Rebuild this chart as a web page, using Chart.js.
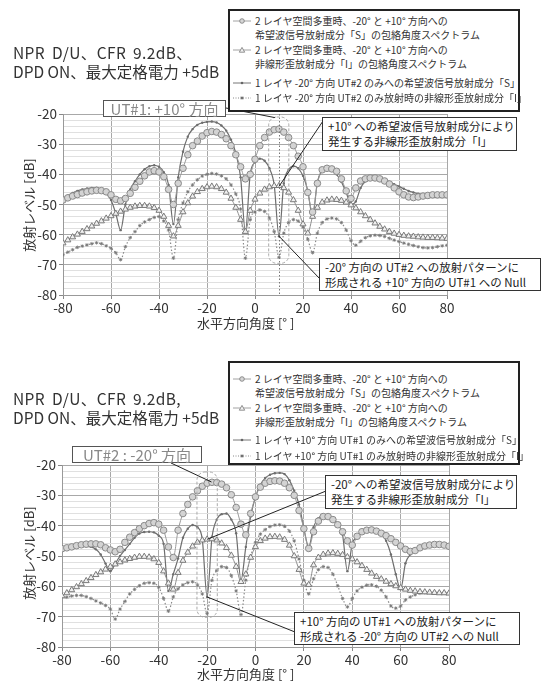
<!DOCTYPE html>
<html><head><meta charset="utf-8">
<script src="https://cdn.jsdelivr.net/npm/chart.js"></script>
<style>
body{margin:0;width:544px;height:684px;position:relative;background:#fff;font-family:'Noto Sans CJK JP','Noto Sans',sans-serif;overflow:hidden}
.abs{position:absolute;white-space:nowrap}
canvas{position:absolute;left:0}
.title{font-size:15.5px;color:#333;line-height:19px}
.legend{position:absolute;border:2px solid #222;box-sizing:border-box;background:#fff}
.lrow{position:absolute;font-size:10px;color:#333;line-height:12px;white-space:nowrap;transform:translateY(-6px)}
.lrow svg{vertical-align:middle;margin-right:4px;position:relative;top:-1px}
.abox{position:absolute;border:1.5px solid #333;background:#fff;box-sizing:border-box;font-size:11.5px;color:#222;line-height:15px;padding:1px 5px;white-space:nowrap}
.ubox{position:absolute;border:1.5px solid #555;background:#fff;box-sizing:border-box;font-size:15px;color:#888;line-height:15px;text-align:center;white-space:nowrap}
.axt{position:absolute;font-size:13px;color:#333;white-space:nowrap}
</style></head><body>

<canvas id="c1" width="544" height="342" style="top:0"></canvas>
<canvas id="c2" width="544" height="342" style="top:342px"></canvas>

<div class="abs title" style="left:13px;top:43px;word-spacing:3px;letter-spacing:0.4px">NPR D/U、CFR 9.2dB、</div>
<div class="abs title" style="left:13px;top:62px">DPD ON、最大定格電力 +5dB</div>
<div class="abs title" style="left:13px;top:389px;word-spacing:3px;letter-spacing:0.4px">NPR D/U、CFR 9.2dB,</div>
<div class="abs title" style="left:13px;top:408px">DPD ON、最大定格電力 +5dB</div>

<div class="legend" id="leg1" style="left:228px;top:9px;width:292px;height:103px"></div>
<div class="legend" id="leg2" style="left:228px;top:361px;width:292px;height:104px"></div>

<div class="ubox" style="left:103px;top:100px;width:123px;height:17px">UT#1: +10° 方向</div>
<div class="abox" style="left:322px;top:117px;width:195px;height:34px">+10° への希望波信号放射成分により<br>発生する非線形歪放射成分「I」</div>
<div class="abox" style="left:319px;top:258px;width:222px;height:33px">-20° 方向の UT#2 への放射パターンに<br>形成される +10° 方向の UT#1 への Null</div>

<div class="ubox" style="left:72px;top:446px;width:130px;height:17px">UT#2 : -20° 方向</div>
<div class="abox" style="left:325px;top:475px;width:192px;height:34px">-20° への希望波信号放射成分により<br>発生する非線形歪放射成分「I」</div>
<div class="abox" style="left:294px;top:612px;width:226px;height:33px">+10° 方向の UT#1 への放射パターンに<br>形成される -20° 方向の UT#2 への Null</div>

<div class="axt" style="left:197px;top:313px">水平方向角度 [°&nbsp;]</div>
<div class="axt" style="left:197px;top:664px">水平方向角度 [°&nbsp;]</div>
<div class="axt" style="left:28px;top:205px;transform:translate(-50%,-50%) rotate(-90deg)">放射レベル [dB]</div>
<div class="axt" style="left:28px;top:553px;transform:translate(-50%,-50%) rotate(-90deg)">放射レベル [dB]</div>

<script>
// ---------- data ----------
const angles = [-80,-78,-76,-74,-72,-70,-68,-66,-64,-62,
 -60,-58,-56,-54,-52,-50,-48,-46,-44,-42,
 -40,-38,-36,-34,-32,-30,-28,-26,-24,-22,
 -20,-18,-16,-14,-12,-10,-8,-6,-4,-2,
 0,2,4,6,8,10,12,14,16,18,
 20,22,24,26,28,30,32,34,36,38,
 40,42,44,46,48,50,52,54,56,58,
 60,62,64,66,68,70,72,74,76,78,
 80];
const xTicks = [-80,-60,-40,-20,0,20,40,60,80];
const yTicks = [-80,-70,-60,-50,-40,-30,-20];

// top chart (UT#1 +10°)
const topS2 = [-48.5,-47.8,-47.2,-46.7,-46.2,-45.8,-45.5,-45.3,-45.4,-45.8,
 -46.8,-48.3,-48.8,-48,-46.3,-44.3,-42.3,-40.5,-39.2,-38.8,
 -39.2,-40.8,-45,-50,-43,-38,-33.5,-30.5,-29,-27.3,
 -26.2,-25.8,-26,-26.8,-28.2,-30.5,-33.5,-37.5,-41.5,-40,
 -35,-30.5,-27.8,-26,-25.2,-25,-26,-27.8,-30.5,-34,
 -37.5,-46,-52.5,-43,-38.5,-38,-38.2,-39,-41.5,-45.5,
 -48,-44.5,-42.2,-41.5,-41.2,-41.2,-41.5,-42.2,-43.2,-44.5,
 -45.8,-46.8,-47.5,-47.7,-47.5,-47.2,-47,-46.8,-46.8,-46.8,
 -46.8];
const topI2 = [-62.8,-61.8,-60.8,-59.9,-59,-58.1,-57.2,-56.3,-55.5,-54.6,
 -53.8,-53,-52.3,-51.6,-51,-50.6,-50.4,-50.4,-50.6,-51.1,
 -52,-54,-57,-60.5,-57,-52.5,-49.5,-47.3,-45.8,-44.8,
 -44.2,-44,-44.2,-44.8,-46,-48,-51,-55,-59,-52,
 -48.3,-46.3,-45,-44.2,-43.8,-43.8,-44.5,-46,-48.5,-52,
 -56.5,-59.5,-54,-51,-49.3,-48.6,-48.3,-48.4,-48.7,-49.3,
 -50.2,-51.2,-52.5,-53.8,-55,-56.2,-57.3,-58.2,-59,-59.6,
 -60,-60.3,-60.5,-60.6,-60.8,-60.9,-61,-61,-61.1,-61.2,
 -61.3];
const topS1 = [-47.9,-47,-46.2,-45.5,-45,-44.7,-44.5,-44.5,-45,-46.2,
 -48.5,-53,-58.5,-50,-45,-42.3,-40,-38.3,-37.3,-37,
 -37.5,-39.3,-43.5,-56.5,-41,-32.5,-27.5,-25,-23.6,-22.9,
 -22.6,-22.5,-22.8,-23.8,-25.5,-28.5,-33,-41,-59,-40,
 -36,-34.8,-35.5,-38,-43.5,-60.5,-43,-38.5,-37.3,-38,
 -40.5,-45.5,-54,-42.5,-38.8,-38,-38.5,-40,-42.5,-46,
 -50,-49,-44.5,-42.3,-41.3,-41,-41.2,-41.8,-42.5,-43.3,
 -44,-44.8,-45.5,-46,-46.4,-46.7,-46.8,-46.9,-47,-47,
 -47];
const topI1 = [-66.7,-65.8,-65,-64.2,-63.8,-63.4,-63,-62.7,-63,-63.7,
 -64.5,-66,-68.3,-64,-61,-59,-57,-55.8,-55,-54.3,
 -54,-55.5,-58.5,-67.8,-55,-49.5,-45.8,-43.5,-41.8,-40.6,
 -40,-39.7,-39.9,-40.5,-41.5,-43.5,-46.5,-51.5,-67.8,-55,
 -52.5,-51.8,-52.3,-54.5,-59,-67.5,-59.5,-56,-55,-55.5,
 -57.5,-61.5,-66,-59.5,-56,-54.8,-54.5,-54.8,-56,-58.5,
 -62,-63.5,-62.2,-61,-60.4,-60.2,-60.3,-60.6,-61.2,-61.8,
 -62.3,-62.8,-63.2,-63.6,-64,-64.3,-64.4,-64.3,-64,-63.7,
 -63.5];

// bottom chart (UT#2 -20°)
const botS2 = [-47.6,-47.3,-47,-46.6,-46.3,-46.1,-46,-46,-46.3,-47.3,
 -48,-48.6,-47.8,-45.5,-43.8,-42.3,-41,-40,-39.3,-39,
 -39.5,-41.5,-47,-50.5,-41.5,-36,-33,-30.5,-28.5,-27,
 -26,-25.7,-25.8,-26.3,-27.5,-29.8,-34,-39.5,-43,-36,
 -30.5,-27.3,-26,-25.4,-25.2,-25.3,-26,-27.5,-30,-35,
 -41,-47.5,-42,-38.5,-37,-37,-38,-39.7,-42,-45,
 -46.4,-43.5,-42,-41.5,-41.4,-41.8,-42.5,-43.3,-44.3,-45.5,
 -46.7,-47.8,-48.5,-48.2,-47.3,-46.7,-46.4,-46.2,-46.2,-46.4,
 -46.8];
const botI2 = [-63.2,-62.2,-61.2,-60.2,-59.2,-58.2,-57.2,-56.2,-55.3,-54.4,
 -53.5,-52.7,-52,-51.4,-50.9,-50.5,-50.2,-50.2,-50.4,-51,
 -52.2,-55,-59,-61,-55.5,-51.5,-48.8,-46.8,-45.5,-44.8,
 -44.5,-44.4,-44.8,-45.8,-47.3,-49.8,-53.5,-58.5,-56,-50.5,
 -47,-45,-44.2,-43.7,-43.6,-43.8,-44.6,-46.5,-50,-54.5,
 -59,-59.5,-53,-50.5,-49.5,-49.1,-49,-49.2,-49.6,-50.3,
 -51,-52,-53.2,-54.5,-55.7,-56.8,-57.6,-58.4,-59.2,-59.9,
 -60.5,-61,-61.4,-61.6,-61.8,-61.9,-62,-62.1,-62.2,-62.2,
 -62.3];
const botS1 = [-48,-47.6,-47.2,-47,-46.8,-46.8,-47,-47.8,-49.5,-52.5,
 -55,-52.5,-50,-48,-46,-44,-42.6,-42.1,-42,-42.2,
 -43.3,-46,-61.5,-56,-50.8,-44,-41,-39.8,-40.5,-44.5,
 -63.5,-44,-38,-36.2,-36,-38,-42.5,-58,-47,-37,
 -30.5,-26.5,-24.3,-23.2,-22.7,-22.6,-23,-25,-28.5,-33,
 -41,-47,-40.5,-37.5,-36.6,-36.6,-37.5,-39.5,-43,-55,
 -46,-43.5,-41.8,-41,-41,-41.6,-42.5,-45,-49.5,-56,
 -61,-52.4,-49.5,-48,-47.2,-46.8,-46.5,-46.5,-46.6,-46.8,
 -47];
const botI1 = [-63.4,-63.6,-63.2,-63,-63,-63.4,-64,-64.8,-65.5,-66.3,
 -67.5,-70.8,-67.5,-65,-62.5,-61,-59.8,-59,-58.8,-59,
 -60.3,-64,-68.2,-63.5,-60.8,-59.5,-58.8,-58.5,-59.5,-62.5,
 -69,-58,-54.8,-53.5,-53.8,-56.5,-61.5,-69.3,-58,-50,
 -45.5,-42.8,-41.3,-40.3,-39.8,-39.7,-40.2,-41.8,-45,-51,
 -58,-62.5,-57.5,-54.5,-53.5,-53.8,-56,-59.8,-64,-66.8,
 -64,-61.5,-60.3,-59.6,-59.5,-60,-61.3,-63.5,-66.5,-67.2,
 -66.5,-64.5,-63.5,-62.8,-62.3,-62.1,-62,-62,-62.1,-62.2,
 -62.3];

// ---------- legend text ----------
const legendTop = [
 ['circle','2 レイヤ空間多重時、-20° と +10° 方向への'],
 [null,'希望波信号放射成分「S」の包絡角度スペクトラム'],
 ['triangle','2 レイヤ空間多重時、-20° と +10° 方向への'],
 [null,'非線形歪放射成分「I」の包絡角度スペクトラム'],
 ['solid','1 レイヤ -20° 方向 UT#2 のみへの希望波信号放射成分「S」'],
 ['dotted','1 レイヤ -20° 方向 UT#2 のみ放射時の非線形歪放射成分「I」']];
const legendBot = [
 ['circle','2 レイヤ空間多重時、-20° と +10° 方向への'],
 [null,'希望波信号放射成分「S」の包絡角度スペクトラム'],
 ['triangle','2 レイヤ空間多重時、-20° と +10° 方向への'],
 [null,'非線形歪放射成分「I」の包絡角度スペクトラム'],
 ['solid','1 レイヤ +10° 方向 UT#1 のみへの希望波信号放射成分「S」'],
 ['dotted','1 レイヤ +10° 方向 UT#1 のみ放射時の非線形歪放射成分「I」']];

function markerSvg(kind){
  let s='<svg width="18" height="8" viewBox="0 0 18 8">';
  if(kind==='circle') s+='<line x1="0" y1="4" x2="18" y2="4" stroke="#8a8a8a" stroke-width="0.8"/><circle cx="9" cy="4" r="2.3" fill="#d6d6d6" stroke="#777" stroke-width="0.8"/>';
  if(kind==='triangle') s+='<line x1="0" y1="4" x2="18" y2="4" stroke="#8a8a8a" stroke-width="0.8"/><polygon points="9,1.4 11.7,6.2 6.3,6.2" fill="#f2f2f2" stroke="#777" stroke-width="0.8"/>';
  if(kind==='solid') s+='<line x1="0" y1="4" x2="18" y2="4" stroke="#666" stroke-width="0.9"/><circle cx="9" cy="4" r="1.3" fill="#666"/>';
  if(kind==='dotted') s+='<line x1="0" y1="4" x2="18" y2="4" stroke="#888" stroke-dasharray="1,1.5"/><path d="M7.3,4H10.7M9,2.3V5.7M7.8,2.8L10.2,5.2M10.2,2.8L7.8,5.2" stroke="#666" stroke-width="0.8"/>';
  return s+'</svg>';
}
function buildLegend(id, rows, offs){
  const el=document.getElementById(id);
  rows.forEach((r,i)=>{
    const d=document.createElement('div');
    d.className='lrow';
    d.style.top=(offs[i]-2)+'px';
    if(r[0]){ d.style.left='3px'; d.innerHTML=markerSvg(r[0])+r[1]; }
    else { d.style.left='25px'; d.textContent=r[1]; }
    el.appendChild(d);
  });
}
buildLegend('leg1', legendTop, [12,26,41,55,74,89]);
buildLegend('leg2', legendBot, [18,32,47,61,79,95]);

// ---------- chart ----------
const FONT = "'Noto Sans CJK JP','Noto Sans',sans-serif";
const annotPlugin = {
  id:'annot',
  afterDatasetsDraw(chart, args, o){
    const {ctx, scales:{x,y}} = chart;
    ctx.save();
    if(o.vline!==undefined){
      ctx.strokeStyle='#777'; ctx.lineWidth=1; ctx.setLineDash([1.5,2]);
      const px=Math.round(x.getPixelForValue(o.vline))+0.5;
      ctx.beginPath(); ctx.moveTo(px,chart.chartArea.top); ctx.lineTo(px,chart.chartArea.bottom); ctx.stroke();
    }
    if(o.rect){
      const r=o.rect;
      const x0=x.getPixelForValue(r.x0), x1=x.getPixelForValue(r.x1);
      const y0=y.getPixelForValue(r.y0), y1=y.getPixelForValue(r.y1);
      ctx.strokeStyle='#aaa'; ctx.lineWidth=1; ctx.setLineDash([3,2]);
      ctx.beginPath(); ctx.roundRect(x0,y0,x1-x0,y1-y0,8); ctx.stroke();
    }
    ctx.setLineDash([]);
    ctx.strokeStyle='#222'; ctx.lineWidth=1;
    (o.leaders||[]).forEach(l=>{
      ctx.beginPath();
      ctx.moveTo(l.from[0], l.from[1]-o.offsetY);
      ctx.lineTo(x.getPixelForValue(l.to[0]), y.getPixelForValue(l.to[1]));
      ctx.stroke();
    });
    ctx.restore();
  }
};

function makeChart(id, S2, I2, S1, I1, lay, annot){
  const pts = arr => angles.map((a,i)=>({x:a,y:arr[i]}));
  return new Chart(document.getElementById(id), {
    type:'line',
    data:{datasets:[
      {data:pts(S2), borderColor:'#9a9a9a', borderWidth:1, pointStyle:'circle', pointRadius:3.3,
       pointBackgroundColor:'#d3d3d3', pointBorderColor:'#8a8a8a', pointBorderWidth:1},
      {data:pts(I2), borderColor:'#8e8e8e', borderWidth:1, pointStyle:'triangle', pointRadius:3.5,
       pointBackgroundColor:'#f0f0f0', pointBorderColor:'#7a7a7a', pointBorderWidth:1},
      {data:pts(S1), borderColor:'#6e6e6e', borderWidth:1.2, pointStyle:'circle', pointRadius:1.2,
       pointBackgroundColor:'#6e6e6e', pointBorderColor:'#6e6e6e', pointBorderWidth:0},
      {data:pts(I1), borderColor:'#8a8a8a', borderWidth:1.2, borderDash:[1.5,2], pointStyle:'star', pointRadius:1.8,
       pointBackgroundColor:'#777', pointBorderColor:'#777', pointBorderWidth:0.8}
    ]},
    options:{
      responsive:false, animation:false, devicePixelRatio:1,
      layout:{padding:{top:lay.top, right:lay.right, left:0, bottom:0}},
      elements:{line:{cubicInterpolationMode:'monotone'}},
      plugins:{legend:{display:false}, tooltip:{enabled:false}, annot:annot},
      scales:{
        x:{type:'linear', min:-80, max:80,
          afterFit(s){ s.height = lay.xh; },
          afterBuildTicks(s){ s.ticks = xTicks.map(v=>({value:v})); },
          ticks:{font:{family:FONT,size:13.5}, color:'#333', padding:1, maxRotation:0},
          grid:{color:'#a8a8a8', tickLength:4, tickColor:'#888'},
          border:{color:'#999'}},
        y:{type:'linear', min:-80, max:-20,
          afterFit(s){ s.width = lay.yw; },
          ticks:{stepSize:2, autoSkip:false, font:{family:FONT,size:13.5}, color:'#333', padding:2,
            callback:v=> yTicks.includes(v) ? String(v) : ''},
          grid:{tickLength:4,
            color:c=> yTicks.includes(c.tick.value) ? '#a8a8a8' : '#e0e0e0',
            tickColor:c=> yTicks.includes(c.tick.value) ? '#888' : 'rgba(0,0,0,0)'},
          border:{color:'#999'}}
      }
    },
    plugins:[annotPlugin]
  });
}

makeChart('c1', topS2, topI2, topS1, topI1, {top:114, right:97, yw:63, xh:47}, {
  offsetY:0, vline:10,
  rect:{x0:5.7, x1:14.1, y0:-21, y1:-69.5},
  leaders:[{from:[226,108], to:[8.3,-21.2]},
           {from:[323,121], to:[10,-44]},
           {from:[320,279], to:[10,-60.5]}]
});
makeChart('c2', botS2, botI2, botS1, botI1, {top:123, right:95, yw:62, xh:37}, {
  offsetY:342,
  rect:{x0:-24.2, x1:-15.8, y0:-22.3, y1:-70.2},
  leaders:[{from:[171,463], to:[-18.2,-25.6]},
           {from:[326,491], to:[-20,-44.5]},
           {from:[295,632], to:[-20,-63.5]}]
});
</script>
</body></html>
